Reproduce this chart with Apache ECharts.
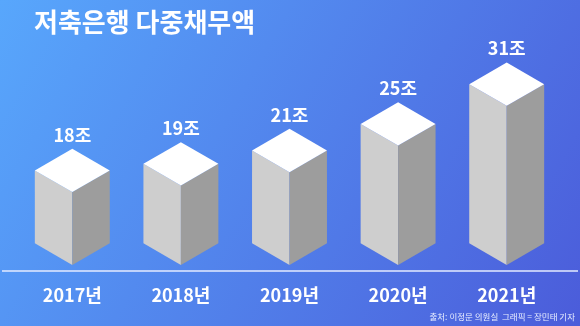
<!DOCTYPE html>
<html>
<head>
<meta charset="utf-8">
<script src="https://cdn.jsdelivr.net/npm/echarts@6/dist/echarts.min.js"></script>
<style>
  html, body { margin: 0; padding: 0; }
  #chart { width: 580px; height: 326px; }
</style>
</head>
<body>
<div id="chart"></div>
<script>
// 저축은행 다중채무액 (단위: 조원)
const years = ['2017년', '2018년', '2019년', '2020년', '2021년'];
const debt = [18, 19, 21, 25, 31];
const unit = '조';
const axisMin = 7;
const axisMax = 37;

const FONT = '"Noto Sans CJK KR", "Noto Sans", sans-serif';

const chart = echarts.init(document.getElementById('chart'));

// Isometric box: front-top corner sits at the value, bottom corner at the axis floor
function renderBox(params, api) {
  const idx = api.value(0);
  const val = api.value(1);
  const top = api.coord([idx, val]);
  const base = api.coord([idx, axisMin]);
  const band = api.size([1, 0])[0];
  const cx = top[0];
  const w = band * 0.345;
  const d = w * Math.tan(Math.PI / 6);
  const yT = top[1];
  const yB = base[1];
  return {
    type: 'group',
    children: [
      {
        type: 'polygon',
        shape: { points: [[cx - w, yT - d], [cx, yT], [cx, yB], [cx - w, yB - d]] },
        style: { fill: '#cecece' }
      },
      {
        type: 'polygon',
        shape: { points: [[cx, yT], [cx + w, yT - d], [cx + w, yB - d], [cx, yB]] },
        style: { fill: '#9d9d9d' }
      },
      {
        type: 'polygon',
        shape: { points: [[cx, yT], [cx - w, yT - d], [cx, yT - 2 * d], [cx + w, yT - d]] },
        style: { fill: '#ffffff' }
      },
      {
        type: 'text',
        style: {
          x: cx,
          y: yT - 2 * d - 14,
          text: val + unit,
          fill: '#ffffff',
          font: 'bold 18px ' + FONT,
          align: 'center',
          verticalAlign: 'middle'
        }
      }
    ]
  };
}

chart.setOption({
  animation: false,
  backgroundColor: {
    type: 'linear', x: 0, y: 0, x2: 1, y2: 1,
    colorStops: [
      { offset: 0, color: '#58a7fc' },
      { offset: 1, color: '#4b5cda' }
    ]
  },
  title: [
    {
      text: '저축은행 다중채무액',
      left: 34, top: 9, padding: 0,
      textStyle: { color: '#ffffff', fontSize: 26, fontWeight: 'bold', fontFamily: FONT }
    },
    {
      text: '출처: 이정문 의원실  그래픽 = 장민태 기자',
      right: 5, bottom: 5, padding: 0,
      textStyle: { color: '#e8eeff', fontSize: 8.5, fontWeight: 'normal', fontFamily: FONT }
    }
  ],
  grid: { left: 18, right: 19, top: 66, bottom: 61 },
  xAxis: {
    type: 'category',
    data: years,
    axisLine: { show: false },
    axisTick: { show: false },
    axisLabel: {
      margin: 21,
      color: '#ffffff',
      fontSize: 18,
      fontWeight: 'bold',
      fontFamily: FONT
    }
  },
  yAxis: {
    type: 'value',
    min: axisMin,
    max: axisMax,
    show: false,
    splitLine: { show: false }
  },
  series: [{
    type: 'custom',
    renderItem: renderBox,
    data: debt.map((v, i) => [i, v])
  }],
  graphic: [{
    type: 'line',
    shape: { x1: 2, y1: 271, x2: 578, y2: 271 },
    style: { stroke: '#e4ebff', lineWidth: 1.5 },
    silent: true
  }]
});
</script>
</body>
</html>
